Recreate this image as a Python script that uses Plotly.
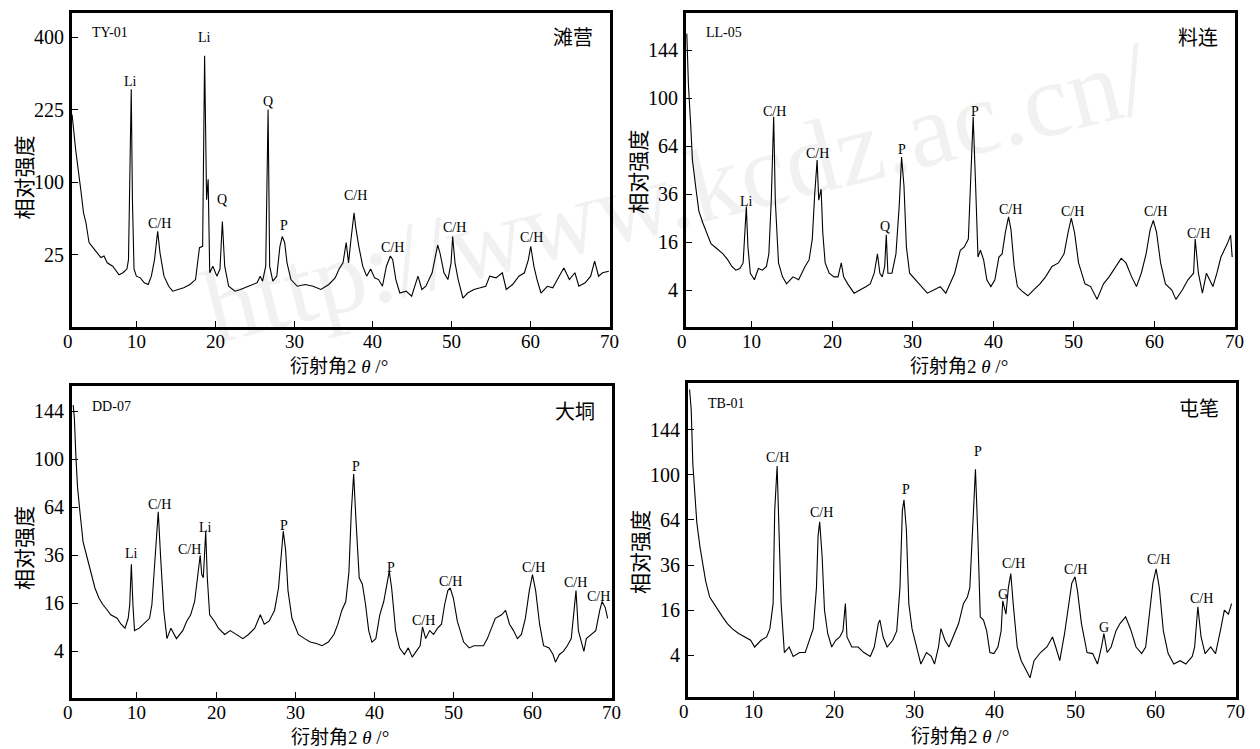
import numpy as np
import plotly.graph_objects as go

# ---------------- data (2theta in degrees, relative intensity) ----------------
TY_X = [1.85,2.3,2.9,3.3,3.6,4.0,4.5,5.0,5.5,5.9,6.3,7.0,7.8,8.3,8.8,9.0,9.1,9.35,9.5,9.7,10.0,10.5,11.0,11.5,11.9,
        12.3,12.7,13.0,13.5,14.1,14.6,15.3,16.0,16.8,17.5,18.0,18.4,18.65,18.9,19.1,19.3,19.7,20.2,20.6,20.9,21.2,
        21.7,22.5,23.2,24.2,25.3,25.7,26.0,26.4,26.7,26.9,27.3,27.8,28.2,28.5,28.8,29.1,29.6,30.4,31.4,32.4,33.4,
        34.4,35.2,35.7,36.2,36.6,36.9,37.2,37.6,37.8,38.2,38.7,39.2,39.7,40.2,40.7,41.2,41.7,42.2,42.5,42.9,43.4,
        44.2,44.9,45.7,46.2,46.7,47.5,48.2,48.5,49.0,49.5,49.9,50.1,50.4,50.8,51.4,52.0,52.8,53.6,54.3,54.8,55.6,
        56.4,56.9,57.7,58.5,59.2,59.7,60.0,60.4,60.8,61.3,62.1,62.8,63.6,64.2,64.9,65.6,66.1,66.9,67.6,68.1,68.6,
        69.1,69.9]
TY_I = [215,150,94,62,52,34,30,26,23,24,19.6,17.6,13,14,16,21.6,77,269,77,16,12.3,11.5,9.3,8.6,12.3,
        21.6,43.7,26,12.3,7.9,6.1,6.7,7.3,8.6,10.7,30,31,350,77,104,14,17.6,12.3,16,53,17.6,
        7.9,6.1,6.7,7.9,9.3,12.3,10,17.6,225,17.6,10,12.3,31,39,34,19.6,10.7,7.9,8.6,7.9,6.7,
        8.6,11.5,16,19.6,34,19.6,36,62,48,31,17.6,12.3,16,11.5,10.7,7.9,17.6,24,21.6,10.7,5.5,
        6.1,4.5,12.3,6.7,7.9,14,32,26,14,10.7,19.6,39,19.6,10.7,4.0,5.5,6.7,7.3,7.9,12.3,11.5,
        14,6.7,8.6,12.3,14,21.6,31,17.6,10.7,5.5,7.9,7.3,12.3,16.6,10.7,14,7.9,9.3,12.3,20.6,12.3,
        14,14.8]

LL_X = [1.9,2.1,2.4,2.6,3.0,3.4,3.9,4.4,4.9,5.4,5.9,6.4,7.0,7.5,8.0,8.5,8.9,9.1,9.3,9.5,9.8,10.3,10.8,11.3,11.8,
        12.1,12.4,12.7,12.9,13.3,13.8,14.3,15.1,15.8,16.6,17.1,17.5,17.8,18.1,18.3,18.6,18.8,19.1,19.6,20.2,20.7,
        21.1,21.4,21.9,22.7,23.5,24.2,24.7,25.2,25.6,25.9,26.2,26.5,26.7,26.9,27.4,27.9,28.3,28.6,28.9,29.2,29.6,
        30.3,31.1,31.8,32.6,33.4,34.1,34.6,35.2,35.9,36.4,36.9,37.3,37.5,37.8,38.1,38.4,38.8,39.2,39.7,40.2,40.7,
        41.1,41.5,41.9,42.2,42.6,43.0,43.5,44.3,45.0,45.8,46.5,47.3,48.1,48.8,49.3,49.7,50.1,50.6,51.4,52.1,52.9,
        53.7,54.4,55.2,55.9,56.5,57.2,57.8,58.4,59.0,59.5,59.9,60.3,60.8,61.4,62.2,62.7,63.5,64.2,64.9,65.1,65.5,
        66.0,66.5,67.3,67.8,68.3,69.1,69.5,69.7]
LL_I = [161,112,77,55,40,28,23,19.4,15.5,14.4,13.4,12.3,10.6,8.9,8.0,8.4,9.8,19.4,30,14.4,7.3,5.9,8.4,8.0,8.9,
        12.3,33,85,33,9.8,6.5,5.1,6.5,5.9,8.9,10.6,17,36,55,33,38.5,19.4,9.8,7.3,6.5,6.5,
        9.8,6.5,5.1,3.5,4.0,4.6,5.1,7.3,12.3,7.3,6.5,8.9,18.5,7.3,7.3,12.3,30,57,40,14.4,7.3,
        5.9,4.6,3.5,4.0,4.6,3.5,5.1,7.3,13.4,14.4,17,51,85,41,11.4,13.4,10.6,5.9,4.6,5.9,11.4,
        12.3,19.4,25.5,20.4,8.9,4.6,3.9,3.1,4.0,5.1,6.5,8.9,9.8,12.3,19.4,25,19.4,9.8,5.1,4.6,2.6,
        5.1,6.5,8.9,11,9.8,6.5,4.6,7.3,12.3,20.4,24,19.4,9.8,5.1,4.0,2.6,4.0,5.9,7.3,17,7.3,
        3.5,7.3,4.6,7.3,11.4,15.5,18.4,11.4]

DD_X = [1.95,2.1,2.3,2.5,2.8,3.2,3.7,4.2,4.7,5.2,5.7,6.2,6.7,7.5,8.0,8.5,8.9,9.1,9.3,9.5,9.7,10.3,10.8,11.3,11.6,
        11.9,12.3,12.7,13.0,13.4,13.8,14.3,15.0,15.8,16.3,16.8,17.3,17.7,18.0,18.2,18.4,18.7,18.9,19.2,19.8,20.3,
        21.1,21.8,22.6,23.4,24.1,24.9,25.6,26.1,26.7,27.4,27.9,28.3,28.5,28.8,29.1,29.6,30.4,31.2,31.9,32.7,33.4,
        34.2,34.9,35.4,35.9,36.4,36.8,37.1,37.4,37.7,38.1,38.5,38.9,39.3,39.7,40.2,40.7,41.2,41.6,41.9,42.2,42.7,
        43.2,43.8,44.3,44.8,45.3,45.8,46.1,46.5,47.0,47.5,48.0,48.5,48.9,49.3,49.6,50.0,50.5,51.3,52.0,52.6,53.1,
        53.8,54.3,54.8,55.3,56.1,56.6,57.1,57.6,58.1,58.6,59.1,59.6,60.0,60.4,60.9,61.4,62.1,62.6,62.9,63.4,63.9,
        64.4,64.9,65.3,65.5,65.8,66.2,66.5,66.8,67.5,68.0,68.5,68.8,69.2,69.5]
DD_I = [150,137,101,78,61,43,35,28,21.5,17.8,15.6,14,12.4,11.4,9.8,8.8,11.4,15.6,31.6,15.6,8.2,8.8,9.8,10.6,11.4,
        15.6,35,61,35,13.7,6.4,8.8,6.4,8.2,10.6,12.4,16.6,28,36,27,25.6,49,25.6,12.4,10.6,8.8,
        7.3,8.2,7.3,6.4,7.3,8.8,12.4,9.8,10.6,13.7,21.5,38.6,49,38.6,20.5,11.4,7.3,6.4,5.7,5.4,5.0,
        5.7,7.3,9.8,13.7,16.6,28,61,88,55,25.6,23,15.6,8.2,5.7,6.4,12.4,16.6,23,28.5,21.5,8.2,
        4.6,3.5,4.6,3.1,4.0,5.0,9.1,6.4,8.2,7.3,8.8,9.8,15.6,20.5,21.5,17.8,10.6,5.7,4.6,5.0,5.0,
        5.0,6.4,8.8,11.4,12.4,13.7,9.8,8.2,6.4,7.3,11.4,20.5,27,20.5,9.8,5.0,4.6,3.5,2.4,3.5,4.0,
        5.0,6.4,15.6,20.5,8.2,5.7,4.0,6.4,7.3,8.2,13.7,16.6,14.6,11.4]

TB_X = [2.0,2.2,2.4,2.7,2.9,3.3,3.7,4.0,4.5,5.0,5.5,6.1,6.7,7.3,8.1,8.8,9.6,10.1,10.9,11.6,12.0,12.4,12.6,12.9,13.1,
        13.4,13.8,14.4,14.9,15.7,16.4,17.0,17.4,17.8,18.0,18.2,18.5,18.8,19.2,19.7,20.2,20.7,21.1,21.4,21.6,22.2,
        23.0,23.7,24.5,25.0,25.5,25.7,26.1,26.6,27.3,27.8,28.2,28.5,28.7,29.0,29.3,29.7,30.3,30.8,31.5,32.1,32.5,
        33.0,33.3,33.8,34.3,34.8,35.5,36.1,36.6,36.9,37.2,37.6,37.9,38.2,38.6,39.0,39.4,39.9,40.4,40.8,41.0,41.4,
        41.7,42.0,42.3,42.8,43.3,43.9,44.4,44.9,45.7,46.5,47.2,47.6,48.1,48.7,49.2,49.6,50.0,50.3,50.8,51.5,52.2,
        52.8,53.3,53.6,54.0,54.5,55.1,55.6,56.3,56.9,57.6,58.3,58.8,59.3,59.7,60.1,60.5,61.0,61.6,62.3,63.1,63.8,
        64.6,64.9,65.3,65.7,66.2,66.9,67.5,68.1,68.6,69.1,69.5]
TB_I = [190,166,110,81,62,46,33.6,28,21,18.4,16,13.7,11.6,10.1,8.8,7.9,7.1,5.6,7.1,7.9,10.1,18.4,71,108,57,
        18.4,4.5,5.6,3.8,4.5,4.5,7.9,10.1,25,53,62.6,41,16,8.8,5.6,7.1,7.9,9.5,18.4,7.9,5.6,
        5.6,4.5,3.8,5.6,11.6,12.7,7.9,5.6,7.1,9.5,25,71,79,57,18.4,10.1,5.6,2.6,4.5,3.8,2.6,
        5.6,10.1,7.1,5.6,7.9,11.6,18.4,21,25,53,105,53,13.7,12.7,9.5,4.5,4.3,5.6,9.5,19.5,14.6,
        25,31.6,18.4,5.6,3.1,1.8,1.0,3.1,4.5,5.6,7.9,5.6,3.1,8.8,18.4,27,30,23.8,11.6,4.5,4.3,
        2.6,5.6,8.8,4.5,5.6,9.5,11.6,13.7,10.1,5.6,4.3,5.6,16,27,34,25,9.5,4.3,2.6,3.1,2.6,
        3.8,5.6,17.2,7.9,4.3,5.6,4.3,9.5,16,14.6,18.4]

# peak labels: (2theta, intensity level of the label, text)
TY_PEAKS = [(9.3, 286, "Li"), (18.7, 400, "Li"), (12.9, 51, "C/H"), (20.9, 77, "Q"), (26.7, 243, "Q"),
            (28.7, 49, "P"), (37.8, 82, "C/H"), (42.5, 30, "C/H"), (50.3, 47, "C/H"), (60.1, 38, "C/H")]
LL_PEAKS = [(9.3, 32.5, "Li"), (12.8, 89, "C/H"), (18.2, 59, "C/H"), (26.6, 21.8, "Q"), (28.7, 62, "P"),
            (37.7, 89, "P"), (42.1, 28.7, "C/H"), (49.9, 28, "C/H"), (60.2, 28, "C/H"), (65.5, 19, "C/H")]
DD_PEAKS = [(9.35, 36.7, "Li"), (12.9, 65.6, "C/H"), (16.65, 39, "C/H"), (18.7, 51.4, "Li"), (28.6, 52.6, "P"),
            (37.7, 94, "P"), (42.1, 30, "P"), (46.2, 10.9, "C/H"), (49.7, 24, "C/H"), (60.1, 30, "C/H"),
            (65.4, 23.5, "C/H"), (68.4, 18.3, "C/H")]
TB_PEAKS = [(13.0, 116, "C/H"), (18.4, 69.4, "C/H"), (28.9, 87.6, "P"), (37.9, 122, "P"), (42.3, 36.8, "C/H"),
            (41.0, 22.2, "G"), (50.0, 33.9, "C/H"), (53.6, 10.3, "G"), (60.4, 39, "C/H"), (65.7, 20.4, "C/H")]

X_TICKS = [1.8, 10, 20, 30, 40, 50, 60, 70]
X_TICKTEXT = ["0", "10", "20", "30", "40", "50", "60", "70"]
Y_TICKS_TY = [25, 100, 225, 400]
Y_TICKS_SQ = [4, 16, 36, 64, 100, 144]

SAMPLES = ["TY-01", "LL-05", "DD-07", "TB-01"]
PLACES = ["滩营", "料连", "大垌", "屯笔"]

# ---------------- layout geometry (page pixels) ----------------
OFF = 8                 # default page margin of the html body
FW, FH = 1252, 741


def px(x):
    return (x - OFF) / FW


def py(y):
    return 1 - (y - OFF) / FH


panels = [
    dict(x=TY_X, y=TY_I, peaks=TY_PEAKS, ticks=Y_TICKS_TY, px=(71.7, 610), py=(12.5, 327), yr=(0, 21.7), tdy=8),
    dict(x=LL_X, y=LL_I, peaks=LL_PEAKS, ticks=Y_TICKS_SQ, px=(686, 1235), py=(12.5, 327), yr=(0.46, 13.57), tdy=2),
    dict(x=DD_X, y=DD_I, peaks=DD_PEAKS, ticks=Y_TICKS_SQ, px=(72, 612), py=(386, 698), yr=(0.06, 13.04), tdy=6),
    dict(x=TB_X, y=TB_I, peaks=TB_PEAKS, ticks=Y_TICKS_SQ, px=(688, 1236), py=(383, 697), yr=(0.15, 14.07), tdy=12),
]

SERIF = "Liberation Serif, Times New Roman, serif"
CJK = "Noto Sans CJK SC, sans-serif"

fig = go.Figure()
annotations = []
layout = {}
for i, p in enumerate(panels):
    k = "" if i == 0 else str(i + 1)
    xa, ya = "x" + k, "y" + k
    fig.add_trace(go.Scatter(x=p["x"], y=np.sqrt(np.array(p["y"], dtype=float)), mode="lines",
                             line=dict(color="black", width=1.1), xaxis=xa, yaxis=ya,
                             hoverinfo="skip", showlegend=False))
    x0, x1 = p["px"]
    y0, y1 = p["py"]
    axis_common = dict(showline=True, linewidth=3, linecolor="black", mirror=True, showgrid=False,
                       zeroline=False, ticks="inside", ticklen=6, tickwidth=1.3, tickcolor="black",
                       showticklabels=False)
    yvals = [float(v) for v in np.sqrt(p["ticks"])]
    layout["xaxis" + k] = dict(domain=[px(x0), px(x1)], range=[1.8, 70.05], tickmode="array",
                               tickvals=X_TICKS, anchor=ya, **axis_common)
    layout["yaxis" + k] = dict(domain=[py(y1), py(y0)], range=list(p["yr"]), tickmode="array",
                               tickvals=yvals, anchor=xa, **axis_common)
    # tick labels
    for tv, tt in zip(X_TICKS, X_TICKTEXT):
        ax = dict(x=tv, xref=xa, y=py(y1 + 14), yref="paper", text=tt, showarrow=False,
                  xanchor="center", yanchor="middle", font=dict(family=SERIF, size=19, color="black"))
        if tt == "0":
            ax.update(x=px(x0 - 4), xref="paper")
        annotations.append(ax)
    for tv, tt in zip(yvals, p["ticks"]):
        annotations.append(dict(x=px(x0 - 6), xref="paper", y=tv, yref=ya, text=str(tt), showarrow=False,
                                xanchor="right", yanchor="middle",
                                font=dict(family=SERIF, size=20, color="black")))
    # peak labels
    for (tx, ti, txt) in p["peaks"]:
        annotations.append(dict(x=tx, y=float(np.sqrt(ti)), xref=xa, yref=ya, text=txt, showarrow=False,
                                font=dict(family=SERIF, size=14, color="black"), yanchor="middle"))
    # sample id, place name
    annotations.append(dict(x=px(x0 + 18), y=py(y0 + 20), xref="paper", yref="paper",
                            text=SAMPLES[i], showarrow=False, xanchor="left", yanchor="middle",
                            font=dict(family=SERIF, size=14, color="black")))
    annotations.append(dict(x=px(x1 - 15), y=py(y0 + 24), xref="paper", yref="paper",
                            text=PLACES[i], showarrow=False, xanchor="right", yanchor="middle",
                            font=dict(family=CJK, size=20, color="black")))
    # axis titles
    annotations.append(dict(x=px(x0 - 49), y=py((y0 + y1) / 2 + p["tdy"]), xref="paper", yref="paper",
                            text="相对强度", textangle=-90, showarrow=False,
                            xanchor="center", yanchor="middle",
                            font=dict(family=CJK, size=21, color="black")))
    annotations.append(dict(x=px((x0 + x1) / 2 - 2), y=py(y1 + 37), xref="paper", yref="paper",
                            text='衍射角<span style="font-family:Liberation Serif">2 <i>θ</i> /°</span>',
                            showarrow=False, xanchor="center", yanchor="middle",
                            font=dict(family=CJK, size=19, color="black")))

# faint watermark
annotations.append(dict(x=px(676), y=py(192), xref="paper", yref="paper",
                        text="http://www.kcdz.ac.cn/", textangle=-14, showarrow=False,
                        font=dict(family=SERIF, size=105, color="rgba(0,0,0,0.055)"),
                        xanchor="center", yanchor="middle"))

fig.update_layout(width=FW, height=FH, margin=dict(l=0, r=0, t=0, b=0), paper_bgcolor="white",
                  plot_bgcolor="white", showlegend=False, annotations=annotations, **layout)
fig.write_html("out.html")
